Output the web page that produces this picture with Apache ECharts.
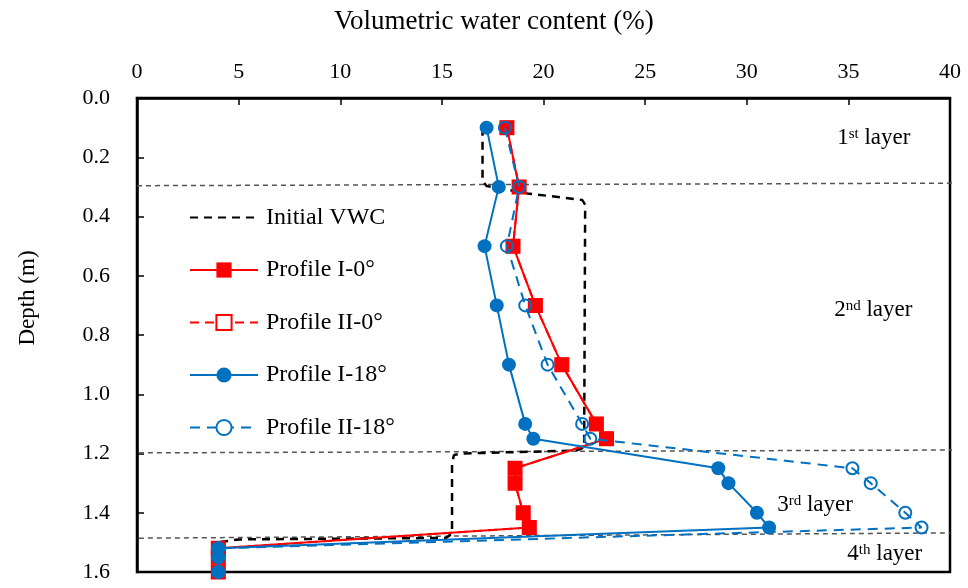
<!DOCTYPE html>
<html>
<head>
<meta charset="utf-8">
<script src="https://cdn.jsdelivr.net/npm/echarts@6/dist/echarts.min.js"></script>
<style>
  html, body { margin: 0; padding: 0; background: #fff; }
  #chart { width: 968px; height: 588px; }
</style>
</head>
<body>
<div id="chart"></div>
<script>
// Depths (m) of the measurement points in each profile
const depthProfile = [0.1, 0.3, 0.5, 0.7, 0.9, 1.1, 1.15, 1.25, 1.3, 1.4, 1.45, 1.52, 1.55, 1.6];
// Volumetric water content (%) per profile
const vwcProfileI0  = [18.2, 18.8, 18.5, 19.6, 20.9, 22.6, 23.1, 18.6, 18.6, 19.0, 19.3, 4.0, 4.0, 4.0];
const vwcProfileII0 = [18.2, 18.8, 18.5, 19.6, 20.9, 22.6, 23.1, 18.6, 18.6, 19.0, 19.3, 4.0, 4.0, 4.0];
const vwcProfileI18 = [17.2, 17.8, 17.1, 17.7, 18.3, 19.1, 19.5, 28.6, 29.1, 30.5, 31.1, 4.0, 4.0, 4.0];
const vwcProfileII18 = [18.1, 18.8, 18.2, 19.1, 20.2, 21.9, 22.3, 35.2, 36.1, 37.8, 38.6, 4.0, 4.0, 4.0];

// Initial VWC profile
const initDepth = [0.1, 0.28, 0.297, 0.322, 0.344, 0.36, 1.18, 1.19, 1.2, 1.205, 1.23, 1.47, 1.485, 1.49, 1.5, 1.6];
const initVwc   = [17.0, 17.0, 17.2, 19.2, 21.9, 22.05, 22.0, 21.6, 16.0, 15.6, 15.5, 15.5, 15.2, 5.0, 4.0, 4.0];

// Soil layer boundaries: [vwc, depth] at each end of the line
const layerBounds = [
  [[0, 0.296], [41.5, 0.287]],
  [[-0.35, 1.198], [40.9, 1.188]],
  [[-0.35, 1.486], [40.0, 1.468]]
];

// Layer names: ordinal number, suffix
const layerNames = [['1', 'st'], ['2', 'nd'], ['3', 'rd'], ['4', 'th']];

// Axis ranges
const vwcMin = 0, vwcMax = 40, vwcStep = 5;
const depthMin = 0, depthMax = 1.6, depthStep = 0.2;

const FONT = '"Liberation Serif", "Times New Roman", serif';
const RED = '#FF0000';
const BLUE = '#0070C0';

const pairs = (xs, ys) => xs.map((x, i) => [x, ys[i]]);

const chart = echarts.init(document.getElementById('chart'), null, { renderer: 'canvas' });

const boundarySeries = layerBounds.map(seg => ({
  type: 'line',
  data: seg,
  symbol: 'none',
  clip: false,
  silent: true,
  z: 1,
  lineStyle: { color: '#555', width: 1.5, type: [5, 4] },
  animation: false
}));

chart.setOption({
  animation: false,
  backgroundColor: '#fff',
  title: {
    text: 'Volumetric water content (%)',
    left: 329,
    top: 3,
    textStyle: { fontFamily: FONT, fontWeight: 'normal', fontSize: 27, color: '#000' }
  },
  grid: {
    left: 137, right: 18, top: 98, bottom: 16,
    show: true, borderColor: '#000', borderWidth: 2.5,
    outerBoundsMode: 'none'
  },
  legend: {
    orient: 'vertical',
    left: 189,
    top: 205,
    padding: 0,
    itemWidth: 68,
    itemHeight: 19,
    itemGap: 27.5,
    selectedMode: false,
    data: [
      { name: 'Initial VWC', itemStyle: { opacity: 0 } },
      'Profile I-0°',
      { name: 'Profile II-0°', itemStyle: { color: '#fff' } },
      'Profile I-18°',
      { name: 'Profile II-18°', itemStyle: { color: '#fff' } }
    ],
    textStyle: { fontFamily: FONT, fontSize: 24, color: '#000', lineHeight: 25, padding: [0, 0, 0, 3] }
  },
  xAxis: {
    type: 'value',
    position: 'top',
    min: vwcMin, max: vwcMax, interval: vwcStep,
    axisLine: { show: true, lineStyle: { color: '#000', width: 2.5 } },
    axisTick: { show: true, inside: true, length: 7, lineStyle: { color: '#000', width: 1.5 } },
    axisLabel: { fontFamily: FONT, fontSize: 22, color: '#000', margin: 15 },
    splitLine: { show: false }
  },
  yAxis: {
    type: 'value',
    inverse: true,
    min: depthMin, max: depthMax, interval: depthStep,
    axisLine: { show: true, lineStyle: { color: '#000', width: 2.5 } },
    axisTick: { show: true, inside: true, length: 7, lineStyle: { color: '#000', width: 1.5 } },
    axisLabel: { fontFamily: FONT, fontSize: 22, color: '#000', margin: 27, formatter: v => v.toFixed(1) },
    splitLine: { show: false }
  },
  series: [
    ...boundarySeries,
    {
      name: 'Initial VWC',
      type: 'line',
      data: pairs(initVwc, initDepth),
      symbol: 'none',
      z: 2,
      lineStyle: { color: '#000', width: 2.5, type: [8, 6] },
      itemStyle: { color: '#000' }
    },
    {
      name: 'Profile II-0°',
      type: 'line',
      data: pairs(vwcProfileII0, depthProfile),
      symbol: 'rect',
      symbolSize: 13,
      z: 3,
      lineStyle: { color: RED, width: 2, type: [9, 6] },
      itemStyle: { color: 'rgba(255,255,255,0)', borderColor: RED, borderWidth: 2 }
    },
    {
      name: 'Profile I-0°',
      type: 'line',
      data: pairs(vwcProfileI0, depthProfile),
      symbol: 'rect',
      symbolSize: 14,
      z: 4,
      lineStyle: { color: RED, width: 2 },
      itemStyle: { color: RED }
    },
    {
      name: 'Profile I-18°',
      type: 'line',
      data: pairs(vwcProfileI18, depthProfile),
      symbol: 'circle',
      symbolSize: 14,
      z: 5,
      lineStyle: { color: BLUE, width: 2 },
      itemStyle: { color: BLUE }
    },
    {
      name: 'Profile II-18°',
      type: 'line',
      data: pairs(vwcProfileII18, depthProfile),
      symbol: 'circle',
      symbolSize: 12,
      z: 5,
      lineStyle: { color: BLUE, width: 2, type: [10, 7] },
      itemStyle: { color: 'rgba(255,255,255,0)', borderColor: BLUE, borderWidth: 2 }
    }
  ]
});

// Layer annotations, anchored at their left-middle point in data coordinates
const layerAnchors = [[34.45, 0.135], [34.3, 0.716], [31.5, 1.374], [34.95, 1.539]];
const richStyle = {
  n: { fontFamily: FONT, fontSize: 23, fill: '#000', color: '#000' },
  s: { fontFamily: FONT, fontSize: 15, fill: '#000', color: '#000', verticalAlign: 'top', padding: [0, 0, 8, 0] }
};
const annotations = layerAnchors.map((p, i) => {
  const px = chart.convertToPixel({ gridIndex: 0 }, p);
  return {
    type: 'text',
    x: px[0], y: px[1],
    z: 10,
    silent: true,
    style: {
      text: '{n|' + layerNames[i][0] + '}{s|' + layerNames[i][1] + '}{n| layer}',
      rich: richStyle,
      fill: '#000',
      textAlign: 'left',
      textVerticalAlign: 'middle'
    }
  };
});

chart.setOption({
  graphic: [
    {
      type: 'text',
      x: 28, y: 298,
      rotation: Math.PI / 2,
      silent: true,
      style: { text: 'Depth (m)', font: '23px ' + FONT, fill: '#000', textAlign: 'center', textVerticalAlign: 'middle' }
    },
    ...annotations
  ]
});
</script>
</body>
</html>
